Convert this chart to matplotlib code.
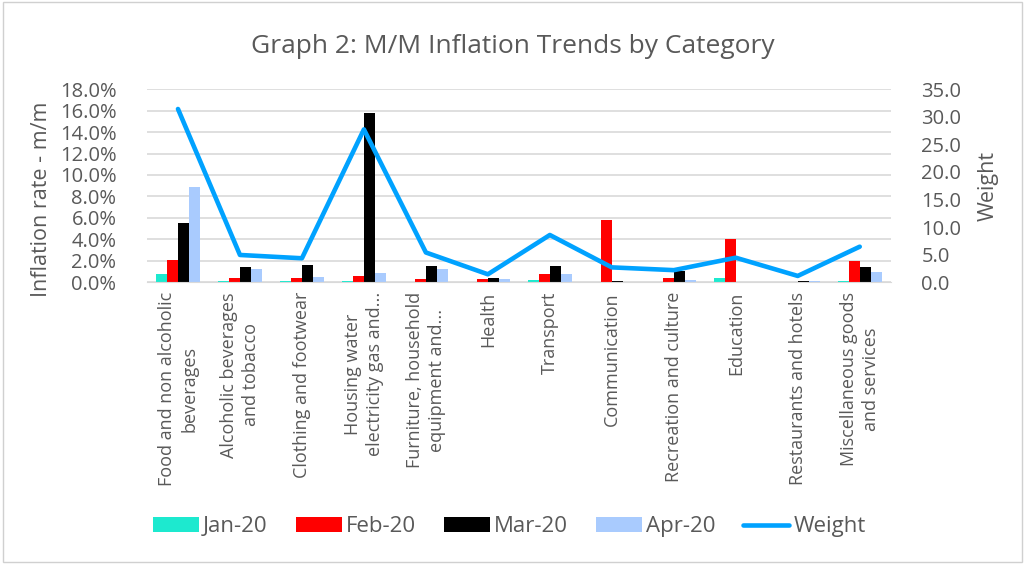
import numpy as np
import matplotlib.pyplot as plt
from matplotlib.patches import Rectangle
from matplotlib.ticker import FuncFormatter, MultipleLocator

plt.rcParams['font.family'] = ['Open Sans', 'DejaVu Sans']

categories = ['Food and non alcoholic\nbeverages', 'Alcoholic beverages\nand tobacco',
              'Clothing and footwear', 'Housing water\nelectricity gas and...',
              'Furniture, household\nequipment and...', 'Health', 'Transport',
              'Communication', 'Recreation and culture', 'Education',
              'Restaurants and hotels', 'Miscellaneous goods\nand services']
jan20 = [0.77, 0.09, 0.12, 0.12, 0.05, 0.05, 0.18, 0.02, 0.03, 0.37, 0.05, 0.12]
feb20 = [2.08, 0.40, 0.40, 0.60, 0.30, 0.28, 0.80, 5.80, 0.37, 4.00, 0.05, 1.98]
mar20 = [5.53, 1.40, 1.60, 15.80, 1.50, 0.37, 1.52, 0.10, 1.08, 0.05, 0.15, 1.42]
apr20 = [8.85, 1.24, 0.53, 0.84, 1.20, 0.30, 0.75, 0.05, 0.20, 0.03, 0.15, 0.96]
weight = [31.4, 4.95, 4.35, 27.7, 5.4, 1.45, 8.57, 2.7, 2.2, 4.45, 1.15, 6.45]

series = [('Jan-20', jan20, '#1de9cf'), ('Feb-20', feb20, '#ff0000'),
          ('Mar-20', mar20, '#000000'), ('Apr-20', apr20, '#a9cbfe')]
gray = '#595959'

fig = plt.figure(figsize=(10.25, 5.64), dpi=100)
fig.patches.append(Rectangle((0.003, 0.003), 0.994, 0.994, transform=fig.transFigure,
                             fill=False, edgecolor='#d0d0d0', lw=1))
ax = fig.add_axes([0.1434, 0.4995, 0.7256, 0.3425])
x = np.arange(len(categories))
w = 0.178
handles = []
for i, (name, vals, col) in enumerate(series):
    b = ax.bar(x + (i - 1.5) * w, vals, w, color=col, label=name, zorder=2)
    handles.append(b)

ax.set_ylim(0, 18)
ax.set_xlim(-0.5, len(categories) - 0.5)
ax.yaxis.set_major_locator(MultipleLocator(2))
ax.yaxis.set_major_formatter(FuncFormatter(lambda v, p: f'{v:.1f}%'))
ax.grid(axis='y', color='#d9d9d9', lw=1.2, zorder=0)
ax.set_axisbelow(True)
for s in ['top', 'right', 'left']:
    ax.spines[s].set_visible(False)
ax.spines['bottom'].set_color('#d9d9d9')
ax.tick_params(axis='y', length=0, labelsize=14.5, colors=gray, pad=22)
ax.tick_params(axis='x', length=0, pad=7)
ax.set_xticks(x)
ax.set_xticklabels(categories, rotation=90, fontsize=13, color=gray, va='top', ha='center',
                   linespacing=1.3)
ax.set_ylabel('Inflation rate - m/m', fontsize=15.5, color=gray)
ax.yaxis.set_label_coords(-0.128, 0.43)

ax2 = ax.twinx()
line, = ax2.plot(x, weight, color='#00a2ff', lw=3.3, label='Weight', zorder=3,
                 solid_capstyle='round')
ax2.set_ylim(0, 35)
ax2.yaxis.set_major_locator(MultipleLocator(5))
ax2.yaxis.set_major_formatter(FuncFormatter(lambda v, p: f'{v:.1f}'))
for s in ax2.spines.values():
    s.set_visible(False)
ax2.tick_params(axis='y', length=0, labelsize=14.5, colors=gray, pad=22)
ax2.set_ylabel('Weight', fontsize=15.5, color=gray, labelpad=12)

fig.suptitle('Graph 2: M/M Inflation Trends by Category', fontsize=19, color=gray, y=0.94)

fig.legend(handles + [line], [s[0] for s in series] + ['Weight'], loc='center',
           bbox_to_anchor=(0.497, 0.066), ncol=5, frameon=False, fontsize=16,
           labelcolor=gray, handlelength=2.07, handleheight=0.68, handletextpad=0.18,
           columnspacing=1.26)

fig.savefig('out.png', dpi=100)
